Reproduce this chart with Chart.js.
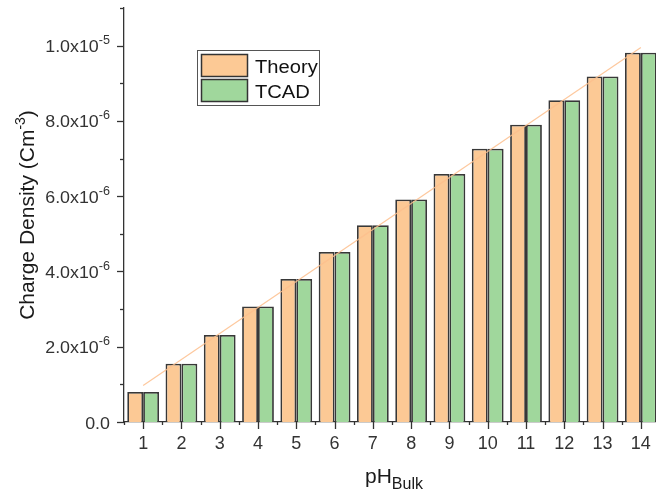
<!DOCTYPE html>
<html>
<head>
<meta charset="utf-8">
<script src="https://cdn.jsdelivr.net/npm/chart.js@4/dist/chart.umd.min.js"></script>
<style>
  html, body { margin: 0; padding: 0; background: #fff; overflow: hidden; }
  #wrap { width: 656px; height: 491px; overflow: hidden; }
</style>
</head>
<body>
<div id="wrap"><canvas id="chart" width="664" height="491"></canvas></div>
<script>
const phBulk = ["1", "2", "3", "4", "5", "6", "7", "8", "9", "10", "11", "12", "13", "14"];
const theory = [0.80e-6, 1.55e-6, 2.31e-6, 3.07e-6, 3.80e-6, 4.52e-6, 5.23e-6, 5.91e-6, 6.59e-6, 7.26e-6, 7.90e-6, 8.55e-6, 9.18e-6, 9.81e-6];
const tcad = [0.80e-6, 1.55e-6, 2.31e-6, 3.07e-6, 3.80e-6, 4.52e-6, 5.23e-6, 5.91e-6, 6.59e-6, 7.26e-6, 7.90e-6, 8.55e-6, 9.18e-6, 9.81e-6];
const trend = [0.97e-6, null, null, null, null, null, null, null, null, null, null, null, null, 9.95e-6];
const yTicks = [0, 2e-6, 4e-6, 6e-6, 8e-6, 1e-5];
const yMinorTicks = [1e-6, 3e-6, 5e-6, 7e-6, 9e-6, 1.1e-5];

const FONT = "'Liberation Sans', Arial, sans-serif";
const ORANGE = "#fcc995";
const GREEN = "#a0d79c";

// tick labels like 2.0x10^-6
function splitSci(v) {
  if (v === 0) return ["0.0", ""];
  const e = Math.floor(Math.log10(v) + 1e-9);
  const m = v / Math.pow(10, e);
  return [m.toFixed(1) + "x10", String(e)];
}

// text a bit wider than the font, like the original export
function wideText(ctx, str, x, y, size, stretch, align) {
  ctx.font = size + "px " + FONT;
  const w = ctx.measureText(str).width * stretch;
  let sx = x;
  if (align === "right") sx = x - w;
  if (align === "center") sx = x - w / 2;
  ctx.save();
  ctx.translate(sx, y);
  ctx.scale(stretch, 1);
  ctx.textAlign = "left";
  ctx.fillText(str, 0, 0);
  ctx.restore();
  return w;
}

const decorations = {
  id: "decorations",
  afterDraw(chart) {
    const ctx = chart.ctx;
    const x = chart.scales.x;
    const y = chart.scales.y;
    const area = chart.chartArea;
    ctx.save();
    ctx.strokeStyle = "#333";
    ctx.lineWidth = 1.3;

    // y ticks
    yTicks.forEach(v => {
      const py = Math.round(y.getPixelForValue(v)) + 0.5;
      ctx.beginPath(); ctx.moveTo(area.left - 7, py); ctx.lineTo(area.left, py); ctx.stroke();
    });
    yMinorTicks.forEach(v => {
      const py = Math.round(y.getPixelForValue(v)) + 0.5;
      ctx.beginPath(); ctx.moveTo(area.left - 4, py); ctx.lineTo(area.left, py); ctx.stroke();
    });
    // x ticks
    const step = x.getPixelForValue(1) - x.getPixelForValue(0);
    phBulk.forEach((c, i) => {
      const px = Math.round(x.getPixelForValue(i)) + 0.5;
      ctx.beginPath(); ctx.moveTo(px, area.bottom); ctx.lineTo(px, area.bottom + 7); ctx.stroke();
      const bx = Math.round(x.getPixelForValue(i) - step / 2) + 0.5;
      ctx.beginPath(); ctx.moveTo(bx, area.bottom); ctx.lineTo(bx, area.bottom + 3); ctx.stroke();
    });

    // x tick labels
    ctx.fillStyle = "#333";
    ctx.textBaseline = "alphabetic";
    phBulk.forEach((c, i) => {
      wideText(ctx, c, x.getPixelForValue(i), 448.5, 18, 1.0, "center");
    });

    // y tick labels
    yTicks.forEach(v => {
      const py = y.getPixelForValue(v);
      const [main, sup] = splitSci(v);
      let right = area.left - 14;
      if (sup) {
        right -= wideText(ctx, sup, right, py - 1.5, 12, 1.05, "right");
      }
      wideText(ctx, main, right, py + 6.5, 17, 1.05, "right");
    });

    // y title
    ctx.fillStyle = "#1a1a1a";
    ctx.save();
    ctx.translate(27, (area.top + area.bottom) / 2);
    ctx.rotate(-Math.PI / 2);
    ctx.textAlign = "left";
    ctx.textBaseline = "alphabetic";
    const partA = "Charge Density (Cm", partB = "-3", partC = ")";
    ctx.font = "21px " + FONT; const wA = ctx.measureText(partA).width, wC = ctx.measureText(partC).width;
    ctx.font = "14px " + FONT; const wB = ctx.measureText(partB).width;
    let sx = -(wA + wB + wC) / 2;
    ctx.font = "21px " + FONT; ctx.fillText(partA, sx, 7); sx += wA;
    ctx.font = "14px " + FONT; ctx.fillText(partB, sx, -2); sx += wB;
    ctx.font = "21px " + FONT; ctx.fillText(partC, sx, 7);
    ctx.restore();

    // x title
    ctx.textAlign = "left";
    ctx.textBaseline = "alphabetic";
    ctx.font = "21px " + FONT; const wp = ctx.measureText("pH").width;
    ctx.font = "16px " + FONT; const wb = ctx.measureText("Bulk").width;
    const cx = 394 - (wp + wb) / 2;
    ctx.font = "21px " + FONT; ctx.fillText("pH", cx, 483);
    ctx.font = "16px " + FONT; ctx.fillText("Bulk", cx + wp, 488.5);

    // legend
    ctx.fillStyle = "#fff";
    ctx.fillRect(197.5, 50.5, 122, 55);
    ctx.strokeStyle = "#555";
    ctx.lineWidth = 1;
    ctx.strokeRect(197.5, 50.5, 122, 55);
    [[ORANGE, "Theory", 54], [GREEN, "TCAD", 79]].forEach(([col, label, ty]) => {
      ctx.fillStyle = col;
      ctx.fillRect(201.5, ty + 0.5, 46, 22);
      ctx.strokeStyle = "#333";
      ctx.lineWidth = 1.5;
      ctx.strokeRect(201.5, ty + 0.5, 46, 22);
      ctx.fillStyle = "#111";
      ctx.textBaseline = "alphabetic";
      wideText(ctx, label, 255, ty + 19, 18, 1.12, "left");
    });
    ctx.restore();
  }
};

new Chart(document.getElementById("chart"), {
  type: "bar",
  data: {
    labels: phBulk,
    datasets: [
      {
        type: "line",
        label: "Fit",
        data: trend,
        spanGaps: true,
        borderColor: "rgba(253, 190, 140, 0.85)",
        borderWidth: 1.2,
        pointRadius: 0,
        order: 0
      },
      {
        label: "Theory",
        data: theory,
        backgroundColor: ORANGE,
        borderColor: "#383838",
        borderWidth: 1.8,
        categoryPercentage: 0.83,
        barPercentage: 1,
        order: 1
      },
      {
        label: "TCAD",
        data: tcad,
        backgroundColor: GREEN,
        borderColor: "#383838",
        borderWidth: 1.8,
        categoryPercentage: 0.83,
        barPercentage: 1,
        order: 1
      }
    ]
  },
  options: {
    responsive: false,
    animation: false,
    layout: { padding: { top: 8, right: 4, left: 0, bottom: 0 } },
    plugins: { legend: { display: false }, tooltip: { enabled: false } },
    scales: {
      x: {
        offset: true,
        grid: { display: false },
        border: { display: true, color: "#333", width: 1.3 },
        ticks: { display: false },
        afterFit: s => { s.height = 69; }
      },
      y: {
        min: 0,
        max: 1.1e-5,
        grid: { display: false },
        border: { display: true, color: "#333", width: 1.3 },
        ticks: { display: false, stepSize: 1e-6 },
        afterFit: s => { s.width = 124; }
      }
    }
  },
  plugins: [decorations]
});
</script>
</body>
</html>
